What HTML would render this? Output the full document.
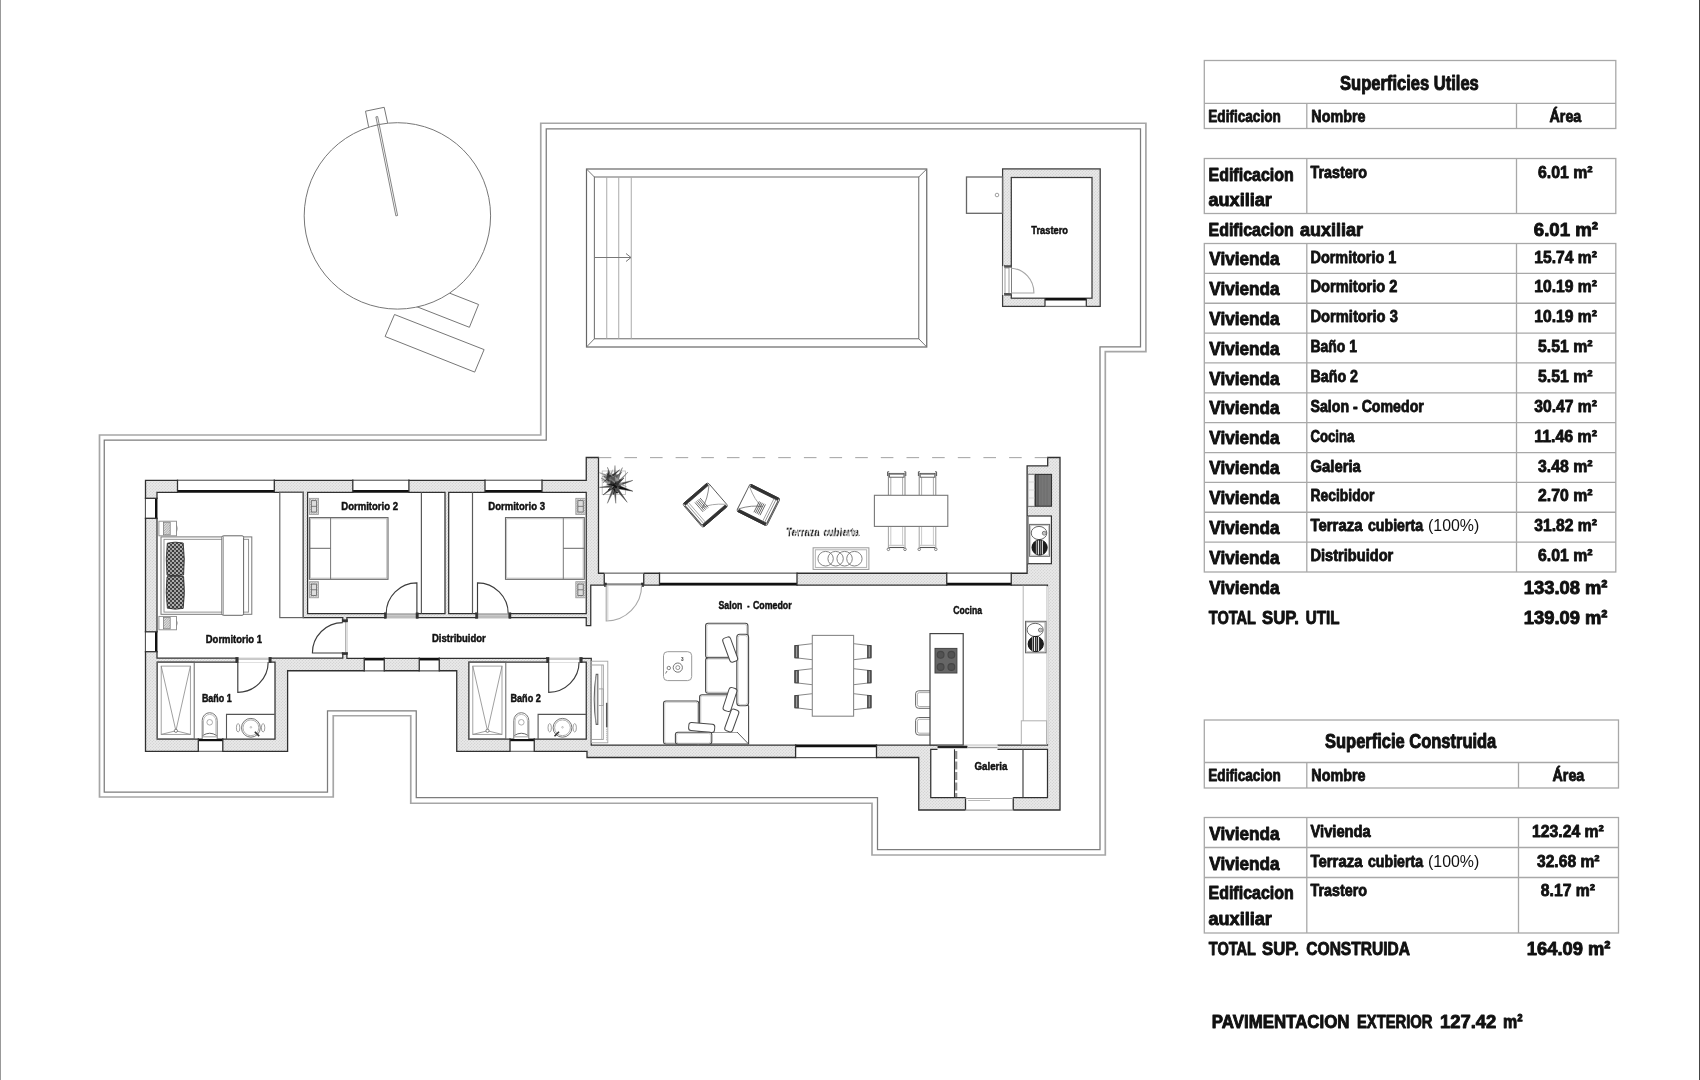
<!DOCTYPE html>
<html lang="es"><head><meta charset="utf-8"><title>Plano - Superficies</title>
<style>
html,body{margin:0;padding:0;background:#fff;}
body{width:1700px;height:1080px;overflow:hidden;position:relative;font-family:"Liberation Sans",sans-serif;}
svg{position:absolute;left:0;top:0;display:block;will-change:transform;}
svg text{font-family:"Liberation Sans",sans-serif;}
</style></head><body>
<svg width="1700" height="1080" viewBox="0 0 1700 1080">
<defs>
<pattern id="hatch" width="3" height="3" patternUnits="userSpaceOnUse">
<rect width="3" height="3" fill="#e4e4e4"/>
<path d="M0,3 L3,0 M-1,1 L1,-1 M2,4 L4,2" stroke="#cfcfcf" stroke-width="0.7"/>
<path d="M0,0 L3,3" stroke="#efefef" stroke-width="0.6"/>
</pattern>
<pattern id="pillow" width="4" height="4" patternUnits="userSpaceOnUse">
<rect width="4" height="4" fill="#3a3a3a"/>
<circle cx="1" cy="1" r="0.9" fill="#e8e8e8"/><circle cx="3" cy="3" r="0.9" fill="#cfcfcf"/><circle cx="3" cy="1" r="0.5" fill="#888"/>
</pattern>
<pattern id="nshatch" width="2.5" height="2.5" patternUnits="userSpaceOnUse">
<rect width="2.5" height="2.5" fill="#ddd"/>
<path d="M0,2.5 L2.5,0" stroke="#888" stroke-width="0.6"/>
</pattern>
<pattern id="tcfill" width="3.2" height="12" patternUnits="userSpaceOnUse" patternTransform="skewX(-12)">
<rect width="3.2" height="12" fill="#c2c2c2"/><rect width="1.5" height="12" fill="#1c1c1c"/>
</pattern>
</defs>
<rect x="0" y="0" width="1700" height="1080" fill="#fff"/>
<polygon points="540.75,123.25 1145.9,123.25 1145.9,351.6 1105.3,351.6 1105.3,855 872,855 872,803.25 410.75,803.25 410.75,715.75 333.25,715.75 333.25,797 99.5,797 99.5,435 540.75,435" fill="none" stroke="#a6a6a6" stroke-width="1.7" />
<polygon points="546.25,128.75 1140.5,128.75 1140.5,346.75 1100,346.75 1100,849.5 877.5,849.5 877.5,797.5 416.25,797.5 416.25,710.75 327.5,710.75 327.5,792 104.25,792 104.25,440 546.25,440" fill="none" stroke="#7c7c7c" stroke-width="1.25" />
<polygon points="389,269.4 478.6,304.5 469.4,327.3 379.8,292.2" fill="none" stroke="#777" stroke-width="1" />
<polygon points="394.5,314.5 484.1,349.6 474.7,372.1 385.1,336.5" fill="none" stroke="#777" stroke-width="1" />
<polyline points="368.6,126.8 365.5,111.2 384.2,107.3 387.6,122.9" fill="none" stroke="#777" stroke-width="1" />
<circle cx="397.4" cy="215.9" r="93.2" fill="#fff" stroke="#777" stroke-width="1" />
<polygon points="375.9,116.9 377.6,116.5 397.6,215.5 395.9,215.9" fill="none" stroke="#777" stroke-width="0.9" />
<rect x="586.5" y="169" width="340.25" height="178" rx="0" fill="none" stroke="#666" stroke-width="1.2" />
<rect x="594.4" y="177" width="324.35" height="161.75" rx="0" fill="none" stroke="#777" stroke-width="1.1" />
<line x1="586.5" y1="169" x2="594.4" y2="177" stroke="#777" stroke-width="1" />
<line x1="926.75" y1="169" x2="918.75" y2="177" stroke="#777" stroke-width="1" />
<line x1="586.5" y1="347" x2="594.4" y2="338.75" stroke="#777" stroke-width="1" />
<line x1="926.75" y1="347" x2="918.75" y2="338.75" stroke="#777" stroke-width="1" />
<line x1="606.75" y1="177" x2="606.75" y2="338.75" stroke="#aaa" stroke-width="1" />
<line x1="618.75" y1="177" x2="618.75" y2="338.75" stroke="#aaa" stroke-width="1" />
<line x1="631.25" y1="177" x2="631.25" y2="338.75" stroke="#aaa" stroke-width="1" />
<line x1="594.4" y1="257.5" x2="631" y2="257.5" stroke="#777" stroke-width="1" />
<polyline points="626,253.5 631,257.5 626,261.5" fill="none" stroke="#777" stroke-width="1" />
<rect x="1002.6" y="168.9" width="97.6" height="137.5" rx="0" fill="url(#hatch)" stroke="#3a3a3a" stroke-width="1.25" />
<rect x="1011.3" y="177.5" width="80.7" height="120.7" rx="0" fill="#fff" stroke="#3a3a3a" stroke-width="1.25" />
<rect x="966.5" y="177" width="36.0" height="36.3" rx="0" fill="#fff" stroke="#666" stroke-width="1.3" />
<circle cx="997" cy="195" r="1.8" fill="none" stroke="#888" stroke-width="0.8" />
<rect x="1002.5" y="266.3" width="8.8" height="28.7" rx="0" fill="#fff" stroke="#fff" stroke-width="0" />
<line x1="1002.5" y1="266.3" x2="1002.5" y2="295" stroke="#999" stroke-width="1" />
<rect x="1005" y="268" width="4" height="25.5" rx="0" fill="none" stroke="#888" stroke-width="0.8" />
<rect x="1004.5" y="265.6" width="6.8" height="1.6" rx="0" fill="#555" stroke="#444" stroke-width="0.6" />
<rect x="1004.5" y="293.4" width="6.8" height="1.8" rx="0" fill="#555" stroke="#444" stroke-width="0.6" />
<path d="M1011.3,268.2 A24,24.6 0 0 1 1033.9,293 L1011.3,293" fill="none" stroke="#a6a6a6" stroke-width="1.1" />
<rect x="1045" y="298" width="41.3" height="8.3" rx="0" fill="#fff" stroke="#fff" stroke-width="0" />
<line x1="1045" y1="299.3" x2="1086.3" y2="299.3" stroke="#111" stroke-width="2.4" />
<line x1="1045" y1="306.3" x2="1086.3" y2="306.3" stroke="#777" stroke-width="1" />
<line x1="1045" y1="298" x2="1045" y2="306.3" stroke="#303030" stroke-width="1.2" />
<line x1="1086.3" y1="298" x2="1086.3" y2="306.3" stroke="#303030" stroke-width="1.2" />
<text x="1031.3" y="233.8" font-size="10.2" font-weight="bold" fill="#111" textLength="36.7" lengthAdjust="spacingAndGlyphs"  stroke="#111" stroke-width="0.46" stroke-linejoin="round">Trastero</text>
<polygon points="145.5,480.3 586.25,480.3 586.25,457.5 598.5,457.5 598.5,573.25 1027.1,573.25 1027.1,465.9 1047.7,465.9 1047.7,457.5 1060,457.5 1060,810 918.75,810 918.75,757.5 587,757.5 587,751.3 456.75,751.3 456.75,670.75 287.6,670.75 287.6,751.3 145.5,751.3" fill="url(#hatch)" stroke="#303030" stroke-width="1.3" />
<polygon points="157,492.3 303.3,492.3 303.3,617.6 342.8,617.6 342.8,658 157,658" fill="#fff" stroke="#303030" stroke-width="1.25" />
<polygon points="307.6,492.3 445,492.3 445,613.5 307.6,613.5" fill="#fff" stroke="#303030" stroke-width="1.25" />
<polygon points="448.7,492.3 586.25,492.3 586.25,613.5 448.7,613.5" fill="#fff" stroke="#303030" stroke-width="1.25" />
<polygon points="346.9,617.6 586.25,617.6 586.25,625.5 590.75,625.5 590.75,585 1047.5,585 1047.5,745 591.25,745 591.25,658.25 346.9,658.25" fill="#fff" stroke="#303030" stroke-width="1.25" />
<polygon points="157.2,662 275,662 275,739 157.2,739" fill="#fff" stroke="#303030" stroke-width="1.25" />
<polygon points="468.75,662 586.25,662 586.25,739 468.75,739" fill="#fff" stroke="#303030" stroke-width="1.25" />
<polygon points="930.75,749.25 1047.5,749.25 1047.5,797.5 930.75,797.5" fill="#fff" stroke="#303030" stroke-width="1.25" />
<rect x="177.5" y="479.5" width="96.80000000000001" height="13.6" fill="#fff"/>
<line x1="177.5" y1="480.3" x2="274.3" y2="480.3" stroke="#555" stroke-width="1" />
<line x1="177.5" y1="491.40000000000003" x2="274.3" y2="491.40000000000003" stroke="#111" stroke-width="2.6" />
<line x1="177.5" y1="479.6" x2="177.5" y2="493.0" stroke="#303030" stroke-width="1.3" />
<line x1="274.3" y1="479.6" x2="274.3" y2="493.0" stroke="#303030" stroke-width="1.3" />
<rect x="352.8" y="479.5" width="56.099999999999966" height="13.6" fill="#fff"/>
<line x1="352.8" y1="480.3" x2="408.9" y2="480.3" stroke="#555" stroke-width="1" />
<line x1="352.8" y1="491.40000000000003" x2="408.9" y2="491.40000000000003" stroke="#111" stroke-width="2.6" />
<line x1="352.8" y1="479.6" x2="352.8" y2="493.0" stroke="#303030" stroke-width="1.3" />
<line x1="408.9" y1="479.6" x2="408.9" y2="493.0" stroke="#303030" stroke-width="1.3" />
<rect x="485" y="479.5" width="57" height="13.6" fill="#fff"/>
<line x1="485" y1="480.3" x2="542" y2="480.3" stroke="#555" stroke-width="1" />
<line x1="485" y1="491.40000000000003" x2="542" y2="491.40000000000003" stroke="#111" stroke-width="2.6" />
<line x1="485" y1="479.6" x2="485" y2="493.0" stroke="#303030" stroke-width="1.3" />
<line x1="542" y1="479.6" x2="542" y2="493.0" stroke="#303030" stroke-width="1.3" />
<rect x="144.7" y="498.3" width="13.1" height="19.999999999999943" fill="#fff"/>
<line x1="145.5" y1="498.3" x2="145.5" y2="518.3" stroke="#555" stroke-width="1" />
<line x1="156.2" y1="498.3" x2="156.2" y2="518.3" stroke="#111" stroke-width="2.4" />
<line x1="144.8" y1="498.3" x2="157.7" y2="498.3" stroke="#303030" stroke-width="1.3" />
<line x1="144.8" y1="518.3" x2="157.7" y2="518.3" stroke="#303030" stroke-width="1.3" />
<rect x="144.7" y="631.8" width="13.1" height="19.90000000000009" fill="#fff"/>
<line x1="145.5" y1="631.8" x2="145.5" y2="651.7" stroke="#555" stroke-width="1" />
<line x1="156.2" y1="631.8" x2="156.2" y2="651.7" stroke="#111" stroke-width="2.4" />
<line x1="144.8" y1="631.8" x2="157.7" y2="631.8" stroke="#303030" stroke-width="1.3" />
<line x1="144.8" y1="651.7" x2="157.7" y2="651.7" stroke="#303030" stroke-width="1.3" />
<rect x="364.25" y="657.45" width="20.0" height="14.1" fill="#fff"/>
<line x1="364.25" y1="670.75" x2="384.25" y2="670.75" stroke="#555" stroke-width="1" />
<line x1="364.25" y1="659.15" x2="384.25" y2="659.15" stroke="#111" stroke-width="2.6" />
<line x1="364.25" y1="657.55" x2="364.25" y2="671.45" stroke="#303030" stroke-width="1.3" />
<line x1="384.25" y1="657.55" x2="384.25" y2="671.45" stroke="#303030" stroke-width="1.3" />
<rect x="419.25" y="657.45" width="20.0" height="14.1" fill="#fff"/>
<line x1="419.25" y1="670.75" x2="439.25" y2="670.75" stroke="#555" stroke-width="1" />
<line x1="419.25" y1="659.15" x2="439.25" y2="659.15" stroke="#111" stroke-width="2.6" />
<line x1="419.25" y1="657.55" x2="419.25" y2="671.45" stroke="#303030" stroke-width="1.3" />
<line x1="439.25" y1="657.55" x2="439.25" y2="671.45" stroke="#303030" stroke-width="1.3" />
<rect x="198.3" y="738.2" width="24.5" height="13.899999999999954" fill="#fff"/>
<line x1="198.3" y1="751.3" x2="222.8" y2="751.3" stroke="#555" stroke-width="1" />
<line x1="198.3" y1="739.9" x2="222.8" y2="739.9" stroke="#111" stroke-width="2.6" />
<line x1="198.3" y1="738.3" x2="198.3" y2="752.0" stroke="#303030" stroke-width="1.3" />
<line x1="222.8" y1="738.3" x2="222.8" y2="752.0" stroke="#303030" stroke-width="1.3" />
<rect x="510" y="738.2" width="24.25" height="13.899999999999954" fill="#fff"/>
<line x1="510" y1="751.3" x2="534.25" y2="751.3" stroke="#555" stroke-width="1" />
<line x1="510" y1="739.9" x2="534.25" y2="739.9" stroke="#111" stroke-width="2.6" />
<line x1="510" y1="738.3" x2="510" y2="752.0" stroke="#303030" stroke-width="1.3" />
<line x1="534.25" y1="738.3" x2="534.25" y2="752.0" stroke="#303030" stroke-width="1.3" />
<rect x="659.5" y="572.45" width="137.5" height="13.35" fill="#fff"/>
<line x1="659.5" y1="573.25" x2="797" y2="573.25" stroke="#555" stroke-width="1" />
<line x1="659.5" y1="584.1" x2="797" y2="584.1" stroke="#111" stroke-width="2.6" />
<line x1="659.5" y1="572.55" x2="659.5" y2="585.7" stroke="#303030" stroke-width="1.3" />
<line x1="797" y1="572.55" x2="797" y2="585.7" stroke="#303030" stroke-width="1.3" />
<rect x="946.75" y="572.45" width="64.5" height="13.35" fill="#fff"/>
<line x1="946.75" y1="573.25" x2="1011.25" y2="573.25" stroke="#555" stroke-width="1" />
<line x1="946.75" y1="584.1" x2="1011.25" y2="584.1" stroke="#111" stroke-width="2.6" />
<line x1="946.75" y1="572.55" x2="946.75" y2="585.7" stroke="#303030" stroke-width="1.3" />
<line x1="1011.25" y1="572.55" x2="1011.25" y2="585.7" stroke="#303030" stroke-width="1.3" />
<rect x="795.6" y="744.2" width="80.89999999999998" height="14.1" fill="#fff"/>
<line x1="795.6" y1="757.5" x2="876.5" y2="757.5" stroke="#555" stroke-width="1" />
<line x1="795.6" y1="745.9" x2="876.5" y2="745.9" stroke="#111" stroke-width="2.6" />
<line x1="795.6" y1="744.3" x2="795.6" y2="758.2" stroke="#303030" stroke-width="1.3" />
<line x1="876.5" y1="744.3" x2="876.5" y2="758.2" stroke="#303030" stroke-width="1.3" />
<rect x="965.5" y="796.7" width="47.75" height="14" fill="#fff"/>
<line x1="965.5" y1="797.5" x2="965.5" y2="810" stroke="#303030" stroke-width="1.3" />
<line x1="1013.25" y1="797.5" x2="1013.25" y2="810" stroke="#303030" stroke-width="1.3" />
<line x1="965.5" y1="810" x2="1013.25" y2="810" stroke="#999" stroke-width="1" />
<line x1="965.5" y1="798.5" x2="1013.25" y2="798.5" stroke="#aaa" stroke-width="1" />
<line x1="968" y1="800.5" x2="990" y2="800.5" stroke="#bbb" stroke-width="1" />
<rect x="604.25" y="572.4" width="39.5" height="13.4" fill="#fff"/>
<line x1="604.25" y1="573.25" x2="604.25" y2="585" stroke="#303030" stroke-width="1.3" />
<line x1="643.75" y1="573.25" x2="643.75" y2="585" stroke="#303030" stroke-width="1.3" />
<line x1="604.25" y1="573.25" x2="643.75" y2="573.25" stroke="#666" stroke-width="1" />
<line x1="604.25" y1="584.2" x2="643.75" y2="584.2" stroke="#8a8a8a" stroke-width="1.9" />
<rect x="604.3" y="583" width="2.0" height="3.5" rx="0" fill="#333" stroke="#303030" stroke-width="0.6" />
<rect x="641.5" y="583" width="2.2" height="3.5" rx="0" fill="#333" stroke="#303030" stroke-width="0.6" />
<path d="M606.2,585 L606.2,621 A35.6,35.6 0 0 0 641.6,585" fill="none" stroke="#a8a8a8" stroke-width="1.1" />
<line x1="607.8" y1="585" x2="607.8" y2="620.6" stroke="#c4c4c4" stroke-width="0.8" />
<rect x="385.6" y="612.7" width="31" height="5.7" fill="#fff"/>
<rect x="385.6" y="613.6" width="31" height="3.8" fill="#c8c8c8"/>
<line x1="385.6" y1="614" x2="416.6" y2="614" stroke="#888" stroke-width="0.9" />
<line x1="385.6" y1="617.2" x2="416.6" y2="617.2" stroke="#999" stroke-width="0.8" />
<rect x="384.3" y="612.8" width="2.2" height="5.5" rx="0" fill="#333" stroke="#303030" stroke-width="0.5" />
<rect x="416" y="612.8" width="2.3" height="5.5" rx="0" fill="#333" stroke="#303030" stroke-width="0.5" />
<path d="M416.9,613.5 L416.9,582.8 A30.7,30.7 0 0 0 386.2,613.5" fill="none" stroke="#3c3c3c" stroke-width="1.15" />
<rect x="477.2" y="612.7" width="32" height="5.7" fill="#fff"/>
<rect x="477.2" y="613.6" width="32" height="3.8" fill="#c8c8c8"/>
<line x1="477.2" y1="614" x2="509.2" y2="614" stroke="#888" stroke-width="0.9" />
<line x1="477.2" y1="617.2" x2="509.2" y2="617.2" stroke="#999" stroke-width="0.8" />
<rect x="475.6" y="612.8" width="2.3" height="5.5" rx="0" fill="#333" stroke="#303030" stroke-width="0.5" />
<rect x="508.8" y="612.8" width="2.2" height="5.5" rx="0" fill="#333" stroke="#303030" stroke-width="0.5" />
<path d="M477.5,613.5 L477.5,582.8 A30.7,30.7 0 0 1 508.2,613.5" fill="none" stroke="#3c3c3c" stroke-width="1.15" />
<rect x="342" y="621.6" width="5.7" height="31" fill="#fff"/>
<line x1="345.8" y1="621.6" x2="345.8" y2="652.6" stroke="#888" stroke-width="0.9" />
<rect x="342.1" y="619.7" width="5.5" height="2.3" rx="0" fill="#333" stroke="#303030" stroke-width="0.5" />
<rect x="342.1" y="652.4" width="5.5" height="2.3" rx="0" fill="#333" stroke="#303030" stroke-width="0.5" />
<path d="M342.8,653 L312.4,653 A30.4,30.4 0 0 1 342.8,622.6" fill="none" stroke="#3c3c3c" stroke-width="1.15" />
<rect x="237.6" y="657.2" width="31.7" height="5.6" fill="#fff"/>
<line x1="237.6" y1="659" x2="269.3" y2="659" stroke="#888" stroke-width="0.9" />
<rect x="235.8" y="657.3" width="2.4" height="5.4" rx="0" fill="#333" stroke="#303030" stroke-width="0.5" />
<rect x="268.9" y="657.3" width="2.3" height="5.4" rx="0" fill="#333" stroke="#303030" stroke-width="0.5" />
<path d="M237.8,662 L237.8,692.3 A30.4,30.4 0 0 0 268.2,662" fill="none" stroke="#3c3c3c" stroke-width="1.15" />
<rect x="548.5" y="657.4" width="31.7" height="5.4" fill="#fff"/>
<line x1="548.5" y1="659" x2="580.2" y2="659" stroke="#888" stroke-width="0.9" />
<rect x="546.6" y="657.3" width="2.4" height="5.4" rx="0" fill="#333" stroke="#303030" stroke-width="0.5" />
<rect x="579.8" y="657.3" width="2.4" height="5.4" rx="0" fill="#333" stroke="#303030" stroke-width="0.5" />
<path d="M548.7,662 L548.7,692.3 A30.4,30.4 0 0 0 579.1,662" fill="none" stroke="#3c3c3c" stroke-width="1.15" />
<rect x="937.5" y="744.3" width="60" height="5.7" fill="#fff"/>
<line x1="937.5" y1="746.9" x2="967.5" y2="746.9" stroke="#222" stroke-width="2.6" />
<line x1="967.5" y1="747.6" x2="997.5" y2="747.6" stroke="#999" stroke-width="1.2" />
<line x1="967.5" y1="745.8" x2="997.5" y2="745.8" stroke="#bbb" stroke-width="0.8" />
<rect x="279.8" y="492.3" width="23.5" height="125.3" rx="0" fill="none" stroke="#666" stroke-width="1.2" />
<line x1="421.4" y1="492.3" x2="421.4" y2="613.5" stroke="#5a5a5a" stroke-width="1.2" />
<line x1="472.5" y1="492.3" x2="472.5" y2="613.5" stroke="#5a5a5a" stroke-width="1.2" />
<rect x="161" y="536.9" width="90.8" height="77.4" rx="0" fill="none" stroke="#777" stroke-width="1" />
<rect x="164" y="539.3" width="84.6" height="72.8" rx="0" fill="none" stroke="#888" stroke-width="0.9" />
<rect x="221.9" y="535.8" width="21.7" height="79.5" rx="1.5" fill="#fff" stroke="#666" stroke-width="1" />
<line x1="223.5" y1="536" x2="223.5" y2="615" stroke="#999" stroke-width="0.8" />
<path d="M167.3,543.2 Q175,541.2 183.2,543 Q185.2,559 183.6,575 Q175,576.4 167,575.2 Q165.4,559 167.3,543.2 Z" fill="url(#pillow)" stroke="#222" stroke-width="0.8" />
<path d="M167,576.8 Q175,575.4 183.6,576.6 Q185.4,592 183.2,608.4 Q175,610 167.4,608.2 Q165.2,592 167,576.8 Z" fill="url(#pillow)" stroke="#222" stroke-width="0.8" />
<rect x="158.9" y="521.2" width="17.6" height="14.6" rx="0" fill="#fff" stroke="#888" stroke-width="0.9" />
<rect x="163.4" y="522.2" width="6.8" height="12.6" rx="0" fill="url(#nshatch)" stroke="#777" stroke-width="0.7" />
<path d="M176.5,525.2 q1.6,3.2999999999999545 0,6.599999999999909" fill="none" stroke="#888" stroke-width="0.8" />
<rect x="158.9" y="616.4" width="17.6" height="13.4" rx="0" fill="#fff" stroke="#888" stroke-width="0.9" />
<rect x="163.4" y="617.4" width="6.8" height="11.4" rx="0" fill="url(#nshatch)" stroke="#777" stroke-width="0.7" />
<path d="M176.5,620.4 q1.6,2.6999999999999886 0,5.399999999999977" fill="none" stroke="#888" stroke-width="0.8" />
<rect x="309.4" y="517.6" width="78.6" height="61.7" rx="0" fill="none" stroke="#666" stroke-width="1.1" />
<rect x="310.6" y="518.8" width="76.2" height="59.3" rx="0" fill="none" stroke="#aaa" stroke-width="0.7" />
<line x1="330.6" y1="517.6" x2="330.6" y2="579.3" stroke="#777" stroke-width="1" />
<line x1="309.4" y1="548.3" x2="330.6" y2="548.3" stroke="#666" stroke-width="1" />
<rect x="309.4" y="498.3" width="9.1" height="16.1" rx="0" fill="url(#nshatch)" stroke="#999" stroke-width="0.8" />
<rect x="311.3" y="500.7" width="5.3" height="11.3" rx="0" fill="#ddd" stroke="#555" stroke-width="0.7" />
<line x1="311.3" y1="506.35" x2="316.6" y2="506.35" stroke="#555" stroke-width="0.7" />
<rect x="309.4" y="581.7" width="9.1" height="16.1" rx="0" fill="url(#nshatch)" stroke="#999" stroke-width="0.8" />
<rect x="311.3" y="584.1" width="5.3" height="11.3" rx="0" fill="#ddd" stroke="#555" stroke-width="0.7" />
<line x1="311.3" y1="589.75" x2="316.6" y2="589.75" stroke="#555" stroke-width="0.7" />
<rect x="505.5" y="517.6" width="78.8" height="61.7" rx="0" fill="none" stroke="#666" stroke-width="1.1" />
<rect x="506.7" y="518.8" width="76.4" height="59.3" rx="0" fill="none" stroke="#aaa" stroke-width="0.7" />
<line x1="563.3" y1="517.6" x2="563.3" y2="579.3" stroke="#777" stroke-width="1" />
<line x1="563.3" y1="548.3" x2="584.3" y2="548.3" stroke="#666" stroke-width="1" />
<rect x="575.8" y="498.3" width="9.7" height="16.1" rx="0" fill="url(#nshatch)" stroke="#999" stroke-width="0.8" />
<rect x="577.9" y="500.7" width="5.3" height="11.3" rx="0" fill="#ddd" stroke="#555" stroke-width="0.7" />
<line x1="577.9" y1="506.35" x2="583.2" y2="506.35" stroke="#555" stroke-width="0.7" />
<rect x="575.8" y="581.7" width="9.7" height="16.1" rx="0" fill="url(#nshatch)" stroke="#999" stroke-width="0.8" />
<rect x="577.9" y="584.1" width="5.3" height="11.3" rx="0" fill="#ddd" stroke="#555" stroke-width="0.7" />
<line x1="577.9" y1="589.75" x2="583.2" y2="589.75" stroke="#555" stroke-width="0.7" />
<rect x="157.3" y="662" width="36.9" height="77" rx="0" fill="none" stroke="#666" stroke-width="1" />
<rect x="161.2" y="666.1" width="29.2" height="68.3" rx="0" fill="none" stroke="#999" stroke-width="0.9" />
<line x1="161.2" y1="666.1" x2="175.9" y2="730.8" stroke="#888" stroke-width="0.8" />
<line x1="190.4" y1="666.1" x2="175.9" y2="730.8" stroke="#888" stroke-width="0.8" />
<line x1="161.2" y1="734.4" x2="175.9" y2="730.8" stroke="#888" stroke-width="0.8" />
<line x1="190.4" y1="734.4" x2="175.9" y2="730.8" stroke="#888" stroke-width="0.8" />
<circle cx="175.9" cy="730.8" r="1.6" fill="#fff" stroke="#666" stroke-width="0.8" />
<path d="M202.2,739 L202.2,720.5 A7.5,7.8 0 0 1 217.2,720.5 L217.2,739" fill="#fff" stroke="#777" stroke-width="1" />
<path d="M203.5,734.5 L203.5,721 A6.2,6.6 0 0 1 215.89999999999998,721 L215.89999999999998,734.5" fill="none" stroke="#aaa" stroke-width="0.8" />
<circle cx="209.7" cy="722.3" r="2.8" fill="none" stroke="#999" stroke-width="0.8" />
<path d="M202.7,735.5 Q209.7,731 216.7,735.5" fill="none" stroke="#666" stroke-width="1" />
<line x1="202.7" y1="736.8" x2="216.7" y2="736.8" stroke="#888" stroke-width="0.8" />
<polyline points="226.5,739 226.5,714.4 274.8,714.4" fill="none" stroke="#555" stroke-width="1.1" />
<circle cx="250.9" cy="727.8" r="9.4" fill="none" stroke="#777" stroke-width="1" />
<circle cx="250.9" cy="727.8" r="7.9" fill="none" stroke="#999" stroke-width="0.8" />
<ellipse cx="238.1" cy="727.8" rx="1.7" ry="4.2" fill="none" stroke="#888" stroke-width="0.8" />
<ellipse cx="263.1" cy="727.8" rx="1.7" ry="4.2" fill="none" stroke="#888" stroke-width="0.8" />
<circle cx="250.9" cy="727.3" r="0.8" fill="none" stroke="#999" stroke-width="0.6" />
<line x1="254.8" y1="731.7" x2="259.2" y2="736.1" stroke="#333" stroke-width="1.6" />
<rect x="468.90000000000003" y="662" width="36.9" height="77" rx="0" fill="none" stroke="#666" stroke-width="1" />
<rect x="472.8" y="666.1" width="29.2" height="68.3" rx="0" fill="none" stroke="#999" stroke-width="0.9" />
<line x1="472.8" y1="666.1" x2="487.5" y2="730.8" stroke="#888" stroke-width="0.8" />
<line x1="502.0" y1="666.1" x2="487.5" y2="730.8" stroke="#888" stroke-width="0.8" />
<line x1="472.8" y1="734.4" x2="487.5" y2="730.8" stroke="#888" stroke-width="0.8" />
<line x1="502.0" y1="734.4" x2="487.5" y2="730.8" stroke="#888" stroke-width="0.8" />
<circle cx="487.5" cy="730.8" r="1.6" fill="#fff" stroke="#666" stroke-width="0.8" />
<path d="M513.8000000000001,739 L513.8000000000001,720.5 A7.5,7.8 0 0 1 528.8000000000001,720.5 L528.8000000000001,739" fill="#fff" stroke="#777" stroke-width="1" />
<path d="M515.1,734.5 L515.1,721 A6.2,6.6 0 0 1 527.5000000000001,721 L527.5000000000001,734.5" fill="none" stroke="#aaa" stroke-width="0.8" />
<circle cx="521.3000000000001" cy="722.3" r="2.8" fill="none" stroke="#999" stroke-width="0.8" />
<path d="M514.3000000000001,735.5 Q521.3000000000001,731 528.3000000000001,735.5" fill="none" stroke="#666" stroke-width="1" />
<line x1="514.3000000000001" y1="736.8" x2="528.3000000000001" y2="736.8" stroke="#888" stroke-width="0.8" />
<polyline points="538.1,739 538.1,714.4 586.4,714.4" fill="none" stroke="#555" stroke-width="1.1" />
<circle cx="562.5" cy="727.8" r="9.4" fill="none" stroke="#777" stroke-width="1" />
<circle cx="562.5" cy="727.8" r="7.9" fill="none" stroke="#999" stroke-width="0.8" />
<ellipse cx="549.7" cy="727.8" rx="1.7" ry="4.2" fill="none" stroke="#888" stroke-width="0.8" />
<ellipse cx="574.7" cy="727.8" rx="1.7" ry="4.2" fill="none" stroke="#888" stroke-width="0.8" />
<circle cx="562.5" cy="727.3" r="0.8" fill="none" stroke="#999" stroke-width="0.6" />
<line x1="559.0" y1="731.7" x2="554.5" y2="736.3" stroke="#333" stroke-width="1.6" />
<rect x="591.4" y="661.2" width="16.4" height="81.6" rx="0" fill="none" stroke="#a4a4a4" stroke-width="0.9" />
<rect x="591.4" y="665" width="11.9" height="74.4" rx="0" fill="none" stroke="#999" stroke-width="0.9" />
<line x1="601.7" y1="665" x2="601.7" y2="739.4" stroke="#aaa" stroke-width="0.8" />
<path d="M597.8,674.4 L597.8,724.4 L596.2,724.4 Q592.2,699.4 596.2,674.4 Z" fill="none" stroke="#666" stroke-width="1.1" />
<line x1="595.8" y1="678" x2="595.8" y2="721" stroke="#aaa" stroke-width="0.7" />
<polyline points="598.9,688.9 603.3,688.9 603.3,705.5 598.9,705.5" fill="none" stroke="#999" stroke-width="0.8" />
<line x1="606.7" y1="702.8" x2="606.7" y2="727.2" stroke="#555" stroke-width="1.5" />
<line x1="606.7" y1="727.2" x2="606.7" y2="741" stroke="#aaa" stroke-width="1.2" stroke-dasharray="1 1"/>
<rect x="663.5" y="651.7" width="28.2" height="28.9" rx="4" fill="none" stroke="#999" stroke-width="1" />
<circle cx="668.8" cy="668" r="1.7" fill="none" stroke="#666" stroke-width="0.8" />
<circle cx="677.8" cy="667.6" r="4.6" fill="none" stroke="#666" stroke-width="0.9" />
<circle cx="677.8" cy="667.6" r="2" fill="none" stroke="#777" stroke-width="0.8" />
<line x1="667" y1="671" x2="665.6" y2="673.5" stroke="#666" stroke-width="0.9" />
<text x="681.3" y="660.5" font-size="4.5" font-weight="bold" fill="#555" textLength="2.2" lengthAdjust="spacingAndGlyphs"  stroke="#555" stroke-width="0.2" stroke-linejoin="round">3</text>
<rect x="705.6" y="623.2" width="42.3" height="34.7" rx="2.5" fill="#fff" stroke="#4a4a4a" stroke-width="1.1" />
<rect x="705.6" y="657.9" width="42.3" height="35.4" rx="2.5" fill="#fff" stroke="#4a4a4a" stroke-width="1.1" />
<rect x="706.8" y="624.4" width="39.9" height="32.4" rx="2" fill="none" stroke="#aaa" stroke-width="0.6" />
<rect x="706.8" y="659" width="39.9" height="33.2" rx="2" fill="none" stroke="#aaa" stroke-width="0.6" />
<rect x="663.5" y="701" width="35.3" height="43" rx="2.5" fill="#fff" stroke="#4a4a4a" stroke-width="1.1" />
<rect x="664.7" y="702.2" width="32.9" height="40.8" rx="2" fill="none" stroke="#aaa" stroke-width="0.6" />
<path d="M699.6,744 L699.6,697 Q699.6,694.7 702,694.7 L737,694.7 L748.6,706 L748.6,744 Z" fill="#fff" stroke="#4a4a4a" stroke-width="1.1" />
<path d="M700.8,744 L700.8,697.4 Q700.8,695.9 702.4,695.9 L736.5,695.9" fill="none" stroke="#aaa" stroke-width="0.6" />
<line x1="737" y1="732" x2="748.2" y2="743.6" stroke="#4a4a4a" stroke-width="0.9" />
<path d="M713,732.5 L737,732.5" fill="none" stroke="#888" stroke-width="0.8" />
<rect x="736.8" y="634.3" width="11.8" height="71.5" rx="3" fill="#fff" stroke="#4a4a4a" stroke-width="1.1" />
<rect x="738" y="635.5" width="9.4" height="69.1" rx="2.4" fill="none" stroke="#aaa" stroke-width="0.6" />
<rect x="-4.1" y="-12.75" width="8.2" height="25.5" rx="2.6" fill="#fff" stroke="#4a4a4a" stroke-width="1" transform="translate(730.2,649.6) rotate(-20)"/>
<rect x="-4.1" y="-11.5" width="8.2" height="23" rx="2.6" fill="#fff" stroke="#4a4a4a" stroke-width="1" transform="translate(731.8,720.5) rotate(20)"/>
<rect x="-4.1" y="-12.0" width="8.2" height="24" rx="2.6" fill="#fff" stroke="#4a4a4a" stroke-width="1" transform="translate(730,699.5) rotate(18)"/>
<rect x="-13.0" y="-4.1" width="26" height="8.2" rx="2.6" fill="#fff" stroke="#4a4a4a" stroke-width="1" transform="translate(701.7,727.4) rotate(5)"/>
<rect x="675.4" y="732.2" width="36.4" height="11.8" rx="2.4" fill="#fff" stroke="#4a4a4a" stroke-width="1.1" />
<rect x="676.6" y="733.4" width="34.0" height="9.8" rx="2" fill="none" stroke="#aaa" stroke-width="0.6" />
<polyline points="812.3,643.7 794.8,645.7 794.8,657.7 812.3,659.7" fill="#fff" stroke="#888" stroke-width="1" />
<rect x="794.8" y="645.5" width="3.6" height="12.4" rx="0" fill="#555" stroke="#444" stroke-width="0.8" />
<line x1="796.5999999999999" y1="646.2" x2="796.5999999999999" y2="657.2" stroke="#bbb" stroke-width="0.8" />
<polyline points="853.6,643.7 871.1,645.7 871.1,657.7 853.6,659.7" fill="#fff" stroke="#888" stroke-width="1" />
<rect x="867.5" y="645.5" width="3.6" height="12.4" rx="0" fill="#555" stroke="#444" stroke-width="0.8" />
<line x1="869.3000000000001" y1="646.2" x2="869.3000000000001" y2="657.2" stroke="#bbb" stroke-width="0.8" />
<polyline points="812.3,668.7 794.8,670.7 794.8,682.7 812.3,684.7" fill="#fff" stroke="#888" stroke-width="1" />
<rect x="794.8" y="670.5" width="3.6" height="12.4" rx="0" fill="#555" stroke="#444" stroke-width="0.8" />
<line x1="796.5999999999999" y1="671.2" x2="796.5999999999999" y2="682.2" stroke="#bbb" stroke-width="0.8" />
<polyline points="853.6,668.7 871.1,670.7 871.1,682.7 853.6,684.7" fill="#fff" stroke="#888" stroke-width="1" />
<rect x="867.5" y="670.5" width="3.6" height="12.4" rx="0" fill="#555" stroke="#444" stroke-width="0.8" />
<line x1="869.3000000000001" y1="671.2" x2="869.3000000000001" y2="682.2" stroke="#bbb" stroke-width="0.8" />
<polyline points="812.3,693.7 794.8,695.7 794.8,707.7 812.3,709.7" fill="#fff" stroke="#888" stroke-width="1" />
<rect x="794.8" y="695.5" width="3.6" height="12.4" rx="0" fill="#555" stroke="#444" stroke-width="0.8" />
<line x1="796.5999999999999" y1="696.2" x2="796.5999999999999" y2="707.2" stroke="#bbb" stroke-width="0.8" />
<polyline points="853.6,693.7 871.1,695.7 871.1,707.7 853.6,709.7" fill="#fff" stroke="#888" stroke-width="1" />
<rect x="867.5" y="695.5" width="3.6" height="12.4" rx="0" fill="#555" stroke="#444" stroke-width="0.8" />
<line x1="869.3000000000001" y1="696.2" x2="869.3000000000001" y2="707.2" stroke="#bbb" stroke-width="0.8" />
<rect x="812.3" y="635.4" width="41.3" height="80.8" rx="0" fill="#fff" stroke="#888" stroke-width="1.1" />
<line x1="1047.5" y1="586.2" x2="1047.5" y2="744.2" stroke="#e2e2e2" stroke-width="2" />
<line x1="1046.6" y1="586.2" x2="1046.6" y2="744.2" stroke="#d4d4d4" stroke-width="0.8" />
<line x1="1023.2" y1="585.6" x2="1023.2" y2="721" stroke="#b4b4b4" stroke-width="1" />
<rect x="1021.3" y="720.8" width="25.3" height="23.8" rx="0" fill="none" stroke="#b0b0b0" stroke-width="1" />
<rect x="915.6" y="690.8" width="18.4" height="17.5" rx="3" fill="#fff" stroke="#666" stroke-width="1" />
<rect x="917.4" y="692.5999999999999" width="16.6" height="13.9" rx="2" fill="none" stroke="#999" stroke-width="0.8" />
<rect x="915.6" y="717.5" width="18.4" height="17.5" rx="3" fill="#fff" stroke="#666" stroke-width="1" />
<rect x="917.4" y="719.3" width="16.6" height="13.9" rx="2" fill="none" stroke="#999" stroke-width="0.8" />
<rect x="930" y="633.6" width="33.2" height="111.4" rx="0" fill="#fff" stroke="#444" stroke-width="1.2" />
<rect x="935" y="648.4" width="21.9" height="24.6" rx="0" fill="#666" stroke="#444" stroke-width="1" />
<circle cx="940.6" cy="654.8" r="3.4" fill="#525252" stroke="#454545" stroke-width="1.1" />
<circle cx="951.4" cy="654.8" r="3.4" fill="#525252" stroke="#454545" stroke-width="1.1" />
<circle cx="940.6" cy="667" r="3.4" fill="#525252" stroke="#454545" stroke-width="1.1" />
<circle cx="951.4" cy="667" r="3.4" fill="#525252" stroke="#454545" stroke-width="1.1" />
<rect x="1025.5" y="621.3" width="20.5" height="31.5" rx="0" fill="#fff" stroke="#666" stroke-width="1" />
<rect x="1026.7" y="622.5" width="18.1" height="29.1" rx="0" fill="none" stroke="#aaa" stroke-width="0.6" />
<ellipse cx="1035.15" cy="629.9" rx="8.05" ry="6.6" fill="none" stroke="#666" stroke-width="1" />
<circle cx="1040.35" cy="630.0999999999999" r="1.9" fill="none" stroke="#666" stroke-width="0.9" />
<circle cx="1040.35" cy="630.0999999999999" r="0.8" fill="none" stroke="#888" stroke-width="0.6" />
<circle cx="1035.75" cy="644.0" r="7.6" fill="#1d1d1d" stroke="#111" stroke-width="1" />
<line x1="1032.55" y1="637.0" x2="1032.55" y2="651.0" stroke="#999" stroke-width="1.1" />
<line x1="1034.55" y1="637.0" x2="1034.55" y2="651.0" stroke="#eee" stroke-width="1.1" />
<line x1="1036.55" y1="637.0" x2="1036.55" y2="651.0" stroke="#888" stroke-width="1.1" />
<line x1="1038.55" y1="637.0" x2="1038.55" y2="651.0" stroke="#ddd" stroke-width="1.1" />
<rect x="1028" y="474.4" width="23.5" height="31.8" rx="0" fill="#777" stroke="#333" stroke-width="1.1" />
<rect x="1028" y="474.4" width="6.6" height="31.8" rx="0" fill="#f4f4f4" stroke="#888" stroke-width="0.8" />
<line x1="1028" y1="482" x2="1034.6" y2="482" stroke="#ccc" stroke-width="0.7" />
<line x1="1028" y1="490" x2="1034.6" y2="490" stroke="#ccc" stroke-width="0.7" />
<line x1="1028" y1="498" x2="1034.6" y2="498" stroke="#ccc" stroke-width="0.7" />
<line x1="1035.6" y1="474.4" x2="1035.6" y2="506.2" stroke="#333" stroke-width="1.2" />
<line x1="1038" y1="474.4" x2="1038" y2="506.2" stroke="#444" stroke-width="1" />
<line x1="1041" y1="475" x2="1041" y2="505.6" stroke="#6a6a6a" stroke-width="0.8" />
<line x1="1044" y1="475" x2="1044" y2="505.6" stroke="#6a6a6a" stroke-width="0.8" />
<line x1="1047" y1="475" x2="1047" y2="505.6" stroke="#6a6a6a" stroke-width="0.8" />
<rect x="1027.8" y="516" width="23.6" height="47.7" rx="0" fill="#fff" stroke="#333" stroke-width="1.2" />
<line x1="1027.8" y1="516" x2="1027.8" y2="563.7" stroke="#888" stroke-width="1" />
<rect x="1029.6" y="524.4" width="20.0" height="31.9" rx="0" fill="#fff" stroke="#666" stroke-width="1" />
<rect x="1030.8" y="525.6" width="17.6" height="29.5" rx="0" fill="none" stroke="#aaa" stroke-width="0.6" />
<ellipse cx="1039.0" cy="533.0" rx="7.8" ry="6.6" fill="none" stroke="#666" stroke-width="1" />
<circle cx="1044.1999999999998" cy="533.1999999999999" r="1.9" fill="none" stroke="#666" stroke-width="0.9" />
<circle cx="1044.1999999999998" cy="533.1999999999999" r="0.8" fill="none" stroke="#888" stroke-width="0.6" />
<circle cx="1039.6" cy="547.5" r="7.6" fill="#1d1d1d" stroke="#111" stroke-width="1" />
<line x1="1036.3999999999999" y1="540.5" x2="1036.3999999999999" y2="554.5" stroke="#999" stroke-width="1.1" />
<line x1="1038.3999999999999" y1="540.5" x2="1038.3999999999999" y2="554.5" stroke="#eee" stroke-width="1.1" />
<line x1="1040.3999999999999" y1="540.5" x2="1040.3999999999999" y2="554.5" stroke="#888" stroke-width="1.1" />
<line x1="1042.3999999999999" y1="540.5" x2="1042.3999999999999" y2="554.5" stroke="#ddd" stroke-width="1.1" />
<line x1="888.4000000000001" y1="473.0" x2="888.4000000000001" y2="495.3" stroke="#777" stroke-width="0.9" />
<line x1="890.8000000000001" y1="477.0" x2="890.8000000000001" y2="495.3" stroke="#999" stroke-width="0.8" />
<line x1="905.0" y1="473.0" x2="905.0" y2="495.3" stroke="#777" stroke-width="0.9" />
<line x1="902.6" y1="477.0" x2="902.6" y2="495.3" stroke="#999" stroke-width="0.8" />
<rect x="889.4000000000001" y="473.4" width="14.6" height="3.8" rx="0" fill="#fff" stroke="#555" stroke-width="0.9" />
<line x1="889.4000000000001" y1="474.4" x2="904.0" y2="474.4" stroke="#777" stroke-width="0.8" />
<path d="M887.6,476.0 L887.6,471.8 L889.2,471.8" fill="none" stroke="#555" stroke-width="1" />
<path d="M905.8000000000001,476.0 L905.8000000000001,471.8 L904.2,471.8" fill="none" stroke="#555" stroke-width="1" />
<line x1="888.4000000000001" y1="548.6999999999999" x2="888.4000000000001" y2="526.4" stroke="#999" stroke-width="0.9" />
<line x1="890.8000000000001" y1="544.6999999999999" x2="890.8000000000001" y2="526.4" stroke="#bbb" stroke-width="0.8" />
<line x1="905.0" y1="548.6999999999999" x2="905.0" y2="526.4" stroke="#999" stroke-width="0.9" />
<line x1="902.6" y1="544.6999999999999" x2="902.6" y2="526.4" stroke="#bbb" stroke-width="0.8" />
<line x1="889.2" y1="547.4999999999999" x2="904.2" y2="547.4999999999999" stroke="#555" stroke-width="1.1" />
<line x1="889.2" y1="545.3" x2="904.2" y2="545.3" stroke="#aaa" stroke-width="0.8" />
<circle cx="888.4000000000001" cy="549.3" r="1.3" fill="none" stroke="#666" stroke-width="0.8" />
<circle cx="905.0" cy="549.3" r="1.3" fill="none" stroke="#666" stroke-width="0.8" />
<line x1="919.2" y1="473.0" x2="919.2" y2="495.3" stroke="#777" stroke-width="0.9" />
<line x1="921.6" y1="477.0" x2="921.6" y2="495.3" stroke="#999" stroke-width="0.8" />
<line x1="935.8" y1="473.0" x2="935.8" y2="495.3" stroke="#777" stroke-width="0.9" />
<line x1="933.4" y1="477.0" x2="933.4" y2="495.3" stroke="#999" stroke-width="0.8" />
<rect x="920.2" y="473.4" width="14.6" height="3.8" rx="0" fill="#fff" stroke="#555" stroke-width="0.9" />
<line x1="920.2" y1="474.4" x2="934.8" y2="474.4" stroke="#777" stroke-width="0.8" />
<path d="M918.4,476.0 L918.4,471.8 L920,471.8" fill="none" stroke="#555" stroke-width="1" />
<path d="M936.6,476.0 L936.6,471.8 L935,471.8" fill="none" stroke="#555" stroke-width="1" />
<line x1="919.2" y1="548.6999999999999" x2="919.2" y2="526.4" stroke="#999" stroke-width="0.9" />
<line x1="921.6" y1="544.6999999999999" x2="921.6" y2="526.4" stroke="#bbb" stroke-width="0.8" />
<line x1="935.8" y1="548.6999999999999" x2="935.8" y2="526.4" stroke="#999" stroke-width="0.9" />
<line x1="933.4" y1="544.6999999999999" x2="933.4" y2="526.4" stroke="#bbb" stroke-width="0.8" />
<line x1="920" y1="547.4999999999999" x2="935" y2="547.4999999999999" stroke="#555" stroke-width="1.1" />
<line x1="920" y1="545.3" x2="935" y2="545.3" stroke="#aaa" stroke-width="0.8" />
<circle cx="919.2" cy="549.3" r="1.3" fill="none" stroke="#666" stroke-width="0.8" />
<circle cx="935.8" cy="549.3" r="1.3" fill="none" stroke="#666" stroke-width="0.8" />
<rect x="874.4" y="495.3" width="73.4" height="31.1" rx="0" fill="#fff" stroke="#777" stroke-width="1.1" />
<rect x="813.1" y="547.8" width="55.8" height="21.6" rx="0" fill="none" stroke="#999" stroke-width="1" />
<rect x="815.3" y="549.8" width="51.4" height="17.6" rx="0" fill="none" stroke="#aaa" stroke-width="0.9" />
<ellipse cx="825.6" cy="558.7" rx="7.7" ry="7.3" fill="none" stroke="#777" stroke-width="0.9" />
<ellipse cx="835.6" cy="558.7" rx="7.7" ry="7.3" fill="none" stroke="#777" stroke-width="0.9" />
<ellipse cx="844.6" cy="558.7" rx="7.7" ry="7.3" fill="none" stroke="#777" stroke-width="0.9" />
<ellipse cx="854.4" cy="558.7" rx="7.7" ry="7.3" fill="none" stroke="#777" stroke-width="0.9" />
<line x1="598.7" y1="457.6" x2="611.3" y2="457.6" stroke="#aaa" stroke-width="1.1" />
<line x1="624.4" y1="457.6" x2="637.0" y2="457.6" stroke="#aaa" stroke-width="1.1" />
<line x1="650.0" y1="457.6" x2="662.6" y2="457.6" stroke="#aaa" stroke-width="1.1" />
<line x1="675.6" y1="457.6" x2="688.2" y2="457.6" stroke="#aaa" stroke-width="1.1" />
<line x1="701.3" y1="457.6" x2="713.9" y2="457.6" stroke="#aaa" stroke-width="1.1" />
<line x1="726.9" y1="457.6" x2="739.5" y2="457.6" stroke="#aaa" stroke-width="1.1" />
<line x1="752.6" y1="457.6" x2="765.2" y2="457.6" stroke="#aaa" stroke-width="1.1" />
<line x1="778.2" y1="457.6" x2="790.8" y2="457.6" stroke="#aaa" stroke-width="1.1" />
<line x1="803.9" y1="457.6" x2="816.5" y2="457.6" stroke="#aaa" stroke-width="1.1" />
<line x1="829.5" y1="457.6" x2="842.1" y2="457.6" stroke="#aaa" stroke-width="1.1" />
<line x1="855.2" y1="457.6" x2="867.8" y2="457.6" stroke="#aaa" stroke-width="1.1" />
<line x1="880.8" y1="457.6" x2="893.4" y2="457.6" stroke="#aaa" stroke-width="1.1" />
<line x1="906.5" y1="457.6" x2="919.1" y2="457.6" stroke="#aaa" stroke-width="1.1" />
<line x1="932.1" y1="457.6" x2="944.7" y2="457.6" stroke="#aaa" stroke-width="1.1" />
<line x1="957.8" y1="457.6" x2="970.4" y2="457.6" stroke="#aaa" stroke-width="1.1" />
<line x1="983.4" y1="457.6" x2="996.0" y2="457.6" stroke="#aaa" stroke-width="1.1" />
<line x1="1009.1" y1="457.6" x2="1021.7" y2="457.6" stroke="#aaa" stroke-width="1.1" />
<line x1="1034.7" y1="457.6" x2="1047.3" y2="457.6" stroke="#aaa" stroke-width="1.1" />
<g transform="translate(707.8,482.4) rotate(49.2)">
<rect x="0" y="0" width="31" height="33.4" rx="2" fill="#fff" stroke="#555" stroke-width="0.9" />
<rect x="0" y="1.5" width="2.6" height="30.4" rx="0" fill="#333" stroke="#222" stroke-width="0.6" />
<rect x="28.4" y="1.5" width="2.6" height="30.4" rx="0" fill="#333" stroke="#222" stroke-width="0.6" />
<line x1="2.6" y1="32.4" x2="28.4" y2="32.4" stroke="#555" stroke-width="1.2" />
<line x1="2.6" y1="30.0" x2="28.4" y2="30.0" stroke="#888" stroke-width="0.8" />
<line x1="2.6" y1="27.799999999999997" x2="28.4" y2="27.799999999999997" stroke="#999" stroke-width="0.8" />
<path d="M2.8,0.8 Q13.02,11.356 15.5,20.708" fill="none" stroke="#777" stroke-width="0.8" />
<path d="M28.2,0.8 Q17.98,11.356 15.5,20.708" fill="none" stroke="#999" stroke-width="0.8" />
<line x1="6.82" y1="16.032" x2="19.22" y2="16.032" stroke="#555" stroke-width="0.8" />
<line x1="6.82" y1="17.732" x2="19.22" y2="17.732" stroke="#555" stroke-width="0.8" />
<line x1="6.82" y1="19.432" x2="19.22" y2="19.432" stroke="#555" stroke-width="0.8" />
<line x1="6.82" y1="21.131999999999998" x2="19.22" y2="21.131999999999998" stroke="#555" stroke-width="0.8" />
<line x1="6.82" y1="22.832" x2="19.22" y2="22.832" stroke="#555" stroke-width="0.8" />
</g>
<g transform="translate(736.5,511) rotate(-63.4)">
<rect x="0" y="0" width="30.4" height="33.6" rx="2" fill="#fff" stroke="#555" stroke-width="0.9" />
<rect x="0" y="1.5" width="2.6" height="30.6" rx="0" fill="#333" stroke="#222" stroke-width="0.6" />
<rect x="27.799999999999997" y="1.5" width="2.6" height="30.6" rx="0" fill="#333" stroke="#222" stroke-width="0.6" />
<line x1="2.6" y1="32.6" x2="27.799999999999997" y2="32.6" stroke="#555" stroke-width="1.2" />
<line x1="2.6" y1="30.200000000000003" x2="27.799999999999997" y2="30.200000000000003" stroke="#888" stroke-width="0.8" />
<line x1="2.6" y1="28.0" x2="27.799999999999997" y2="28.0" stroke="#999" stroke-width="0.8" />
<path d="M2.8,0.8 Q12.767999999999999,11.424000000000001 15.2,20.832" fill="none" stroke="#777" stroke-width="0.8" />
<path d="M27.599999999999998,0.8 Q17.631999999999998,11.424000000000001 15.2,20.832" fill="none" stroke="#999" stroke-width="0.8" />
<line x1="6.688" y1="16.128" x2="18.848" y2="16.128" stroke="#555" stroke-width="0.8" />
<line x1="6.688" y1="17.828" x2="18.848" y2="17.828" stroke="#555" stroke-width="0.8" />
<line x1="6.688" y1="19.528" x2="18.848" y2="19.528" stroke="#555" stroke-width="0.8" />
<line x1="6.688" y1="21.228" x2="18.848" y2="21.228" stroke="#555" stroke-width="0.8" />
<line x1="6.688" y1="22.928" x2="18.848" y2="22.928" stroke="#555" stroke-width="0.8" />
</g>
<rect x="602.2" y="471" width="23.3" height="23.6" rx="0" fill="none" stroke="#bbb" stroke-width="0.8" />
<polygon points="614.1,488.1 632.8,491.2 615.3,483.9" fill="#111" stroke="#111" stroke-width="0.4" />
<polygon points="615.2,487.5 632.8,480.4 614.2,484.5" fill="#444" stroke="#444" stroke-width="0.4" />
<polygon points="613.5,486.9 627.2,502.3 615.9,485.1" fill="#444" stroke="#444" stroke-width="0.4" />
<polygon points="613.3,486.1 615.8,503.3 616.1,485.9" fill="#555" stroke="#555" stroke-width="0.4" />
<polygon points="613.4,485.5 607.4,503.3 616.0,486.5" fill="#555" stroke="#555" stroke-width="0.4" />
<polygon points="616.1,486.0 615,465.5 613.3,486.0" fill="#666" stroke="#666" stroke-width="0.4" />
<polygon points="615.9,485.5 607.4,467.2 613.5,486.5" fill="#666" stroke="#666" stroke-width="0.4" />
<polygon points="615.9,486.5 622.4,467.6 613.5,485.5" fill="#666" stroke="#666" stroke-width="0.4" />
<polygon points="614.6,484.7 599.4,487.4 614.8,487.3" fill="#444" stroke="#444" stroke-width="0.4" />
<polygon points="615.3,485.0 601,478 614.1,487.0" fill="#666" stroke="#666" stroke-width="0.4" />
<polygon points="615.5,486.8 628,472 613.9,485.2" fill="#777" stroke="#777" stroke-width="0.4" />
<polygon points="614.0,485.0 603,495 615.4,487.0" fill="#333" stroke="#333" stroke-width="0.4" />
<polygon points="615.6,487.1 624,478 613.8,484.9" fill="#222" stroke="#222" stroke-width="0.4" />
<polygon points="613.8,484.5 608,490 615.6,487.5" fill="#111" stroke="#111" stroke-width="0.4" />
<polygon points="610.6,477.1 611.9,481.8 612.3,477.0" fill="#777" stroke="#777" stroke-width="0.3" />
<polygon points="617.8,474.8 611.7,474.2 617.0,477.3" fill="#555" stroke="#555" stroke-width="0.3" />
<polygon points="606.9,477.4 607.7,482.8 610.3,477.9" fill="#999" stroke="#999" stroke-width="0.3" />
<polygon points="610.8,479.1 612.8,469.6 608.1,478.1" fill="#999" stroke="#999" stroke-width="0.3" />
<polygon points="611.5,485.1 620.9,481.5 610.9,482.8" fill="#777" stroke="#777" stroke-width="0.3" />
<polygon points="612.3,474.7 607.0,476.2 612.2,478.1" fill="#888" stroke="#888" stroke-width="0.3" />
<polygon points="611.4,483.1 612.6,479.1 609.5,482.0" fill="#888" stroke="#888" stroke-width="0.3" />
<polygon points="609.4,480.4 612.7,486.6 611.4,479.7" fill="#555" stroke="#555" stroke-width="0.3" />
<polygon points="609.0,482.2 609.6,477.8 607.0,481.3" fill="#888" stroke="#888" stroke-width="0.3" />
<polygon points="609.6,481.7 603.6,475.1 608.3,482.8" fill="#333" stroke="#333" stroke-width="0.3" />
<polygon points="610.4,478.9 604.7,474.5 608.3,480.8" fill="#999" stroke="#999" stroke-width="0.3" />
<polygon points="608.9,475.2 598.9,472.4 608.1,477.1" fill="#888" stroke="#888" stroke-width="0.3" />
<polygon points="611.6,476.3 606.6,473.5 610.0,478.2" fill="#1a1a1a" stroke="#1a1a1a" stroke-width="0.3" />
<polygon points="616.0,477.4 614.3,481.9 618.3,479.3" fill="#555" stroke="#555" stroke-width="0.3" />
<polygon points="617.0,484.5 623.1,483.9 617.3,482.0" fill="#888" stroke="#888" stroke-width="0.3" />
<polygon points="614.7,484.0 611.7,480.3 612.7,484.9" fill="#555" stroke="#555" stroke-width="0.3" />
<polygon points="610.2,475.0 602.9,482.9 611.4,476.2" fill="#333" stroke="#333" stroke-width="0.3" />
<polygon points="616.5,480.4 611.1,488.4 618.4,482.0" fill="#333" stroke="#333" stroke-width="0.3" />
<polygon points="607.6,475.2 603.2,478.6 608.5,476.9" fill="#999" stroke="#999" stroke-width="0.3" />
<polygon points="613.2,482.4 621.1,479.8 612.8,480.2" fill="#1a1a1a" stroke="#1a1a1a" stroke-width="0.3" />
<polygon points="614.0,480.9 620.8,484.9 616.5,478.3" fill="#777" stroke="#777" stroke-width="0.3" />
<polygon points="611.2,478.1 614.5,484.4 613.6,477.3" fill="#999" stroke="#999" stroke-width="0.3" />
<polygon points="613.2,476.6 620.0,469.5 611.8,475.0" fill="#333" stroke="#333" stroke-width="0.3" />
<polygon points="611.9,477.0 602.4,476.6 611.5,479.2" fill="#555" stroke="#555" stroke-width="0.3" />
<polygon points="612.1,483.2 601.5,480.1 610.9,485.8" fill="#999" stroke="#999" stroke-width="0.3" />
<polygon points="610.1,477.6 608.2,470.2 606.8,477.7" fill="#333" stroke="#333" stroke-width="0.3" />
<polygon points="614.1,481.1 611.0,489.3 616.9,482.8" fill="#888" stroke="#888" stroke-width="0.3" />
<polygon points="614.3,479.1 617.6,488.3 616.7,478.6" fill="#777" stroke="#777" stroke-width="0.3" />
<polygon points="616.7,482.9 626.8,487.0 617.5,481.4" fill="#888" stroke="#888" stroke-width="0.3" />
<polygon points="613.5,476.8 621.7,483.9 614.9,475.4" fill="#999" stroke="#999" stroke-width="0.3" />
<polygon points="611.2,477.8 604.4,481.0 611.9,481.0" fill="#333" stroke="#333" stroke-width="0.3" />
<polygon points="617.0,478.1 619.9,474.7 615.5,475.2" fill="#777" stroke="#777" stroke-width="0.3" />
<polygon points="617.3,478.6 621.9,472.1 615.3,476.5" fill="#555" stroke="#555" stroke-width="0.3" />
<polygon points="616.5,485.2 618.7,477.4 614.2,484.1" fill="#1a1a1a" stroke="#1a1a1a" stroke-width="0.3" />
<polygon points="612.1,485.5 620.4,485.9 612.7,482.8" fill="#333" stroke="#333" stroke-width="0.3" />
<polygon points="616.0,485.6 620.7,485.7 616.6,483.5" fill="#555" stroke="#555" stroke-width="0.3" />
<polygon points="614.3,480.1 615.1,475.3 611.5,478.6" fill="#555" stroke="#555" stroke-width="0.3" />
<polygon points="615.5,478.8 608.9,485.5 616.6,480.2" fill="#888" stroke="#888" stroke-width="0.3" />
<polygon points="618.9,480.1 619.5,473.4 616.1,479.2" fill="#777" stroke="#777" stroke-width="0.3" />
<polygon points="608.8,480.0 618.7,482.7 610.1,477.0" fill="#777" stroke="#777" stroke-width="0.3" />
<polygon points="610.2,478.2 617.0,482.5 612.2,476.0" fill="#555" stroke="#555" stroke-width="0.3" />
<polygon points="612.9,483.0 606.6,484.8 613.0,486.1" fill="#1a1a1a" stroke="#1a1a1a" stroke-width="0.3" />
<polygon points="609.7,482.5 605.7,479.5 607.5,484.2" fill="#888" stroke="#888" stroke-width="0.3" />
<polygon points="615.3,480.5 621.1,481.7 616.7,477.7" fill="#999" stroke="#999" stroke-width="0.3" />
<line x1="616.4" y1="487.3" x2="619.7" y2="487.3" stroke="#333" stroke-width="2" />
<line x1="615.7" y1="487.7" x2="613.2" y2="494.6" stroke="#333" stroke-width="1.5" />
<line x1="613.2" y1="488.0" x2="617.5" y2="493.3" stroke="#111" stroke-width="1.5" />
<line x1="615.9" y1="485.1" x2="619.1" y2="486.9" stroke="#333" stroke-width="1" />
<line x1="614.7" y1="484.6" x2="610.5" y2="482.4" stroke="#333" stroke-width="2" />
<line x1="614.9" y1="486.0" x2="618.5" y2="484.4" stroke="#333" stroke-width="1" />
<line x1="615.5" y1="484.5" x2="611.1" y2="481.1" stroke="#333" stroke-width="1" />
<line x1="614.0" y1="487.4" x2="617.2" y2="492.4" stroke="#111" stroke-width="1" />
<line x1="616.3" y1="485.3" x2="618.9" y2="490.1" stroke="#555" stroke-width="1.5" />
<line x1="616.3" y1="485.4" x2="620.2" y2="480.3" stroke="#333" stroke-width="2" />
<line x1="615.5" y1="487.2" x2="616.3" y2="492.0" stroke="#555" stroke-width="1.5" />
<line x1="613.4" y1="488.9" x2="617.4" y2="485.9" stroke="#333" stroke-width="1.5" />
<line x1="612.1" y1="487.2" x2="609.5" y2="488.9" stroke="#555" stroke-width="2" />
<line x1="616.7" y1="487.7" x2="613.1" y2="484.6" stroke="#111" stroke-width="2" />
<line x1="954.5" y1="749.25" x2="954.5" y2="797.5" stroke="#333" stroke-width="1.1" />
<line x1="956.2" y1="751" x2="956.2" y2="797" stroke="#8a8a8a" stroke-width="2.2" stroke-dasharray="8 2.5"/>
<line x1="1023" y1="749.25" x2="1023" y2="797.5" stroke="#444" stroke-width="1.2" />
<text x="341.3" y="509.5" font-size="10.2" font-weight="bold" fill="#111" textLength="56.7" lengthAdjust="spacingAndGlyphs"  stroke="#111" stroke-width="0.46" stroke-linejoin="round">Dormitorio 2</text>
<text x="488.3" y="509.5" font-size="10.2" font-weight="bold" fill="#111" textLength="56.7" lengthAdjust="spacingAndGlyphs"  stroke="#111" stroke-width="0.46" stroke-linejoin="round">Dormitorio 3</text>
<text x="205.8" y="642.5" font-size="10.2" font-weight="bold" fill="#111" textLength="56.2" lengthAdjust="spacingAndGlyphs"  stroke="#111" stroke-width="0.46" stroke-linejoin="round">Dormitorio 1</text>
<text x="432" y="642.3" font-size="10.2" font-weight="bold" fill="#111" textLength="53.8" lengthAdjust="spacingAndGlyphs"  stroke="#111" stroke-width="0.46" stroke-linejoin="round">Distribuidor</text>
<text x="201.9" y="701.8" font-size="10.2" font-weight="bold" fill="#111" textLength="29.8" lengthAdjust="spacingAndGlyphs"  stroke="#111" stroke-width="0.46" stroke-linejoin="round">Baño 1</text>
<text x="510.5" y="701.8" font-size="10.2" font-weight="bold" fill="#111" textLength="30.3" lengthAdjust="spacingAndGlyphs"  stroke="#111" stroke-width="0.46" stroke-linejoin="round">Baño 2</text>
<text x="718.5" y="608.8" font-size="10.2" font-weight="bold" fill="#111" textLength="23.9" lengthAdjust="spacingAndGlyphs"  stroke="#111" stroke-width="0.46" stroke-linejoin="round">Salon</text>
<text x="747.2" y="608.8" font-size="10.2" font-weight="bold" fill="#111" textLength="2.3" lengthAdjust="spacingAndGlyphs"  stroke="#111" stroke-width="0.46" stroke-linejoin="round">-</text>
<text x="752.9" y="608.8" font-size="10.2" font-weight="bold" fill="#111" textLength="38.7" lengthAdjust="spacingAndGlyphs"  stroke="#111" stroke-width="0.46" stroke-linejoin="round">Comedor</text>
<text x="953.3" y="613.8" font-size="10.2" font-weight="bold" fill="#111" textLength="28.7" lengthAdjust="spacingAndGlyphs"  stroke="#111" stroke-width="0.46" stroke-linejoin="round">Cocina</text>
<text x="974.5" y="770" font-size="10.2" font-weight="bold" fill="#111" textLength="33.0" lengthAdjust="spacingAndGlyphs"  stroke="#111" stroke-width="0.46" stroke-linejoin="round">Galeria</text>
<text x="786.2" y="535.8" font-size="10.6" font-weight="bold" fill="url(#tcfill)" stroke="url(#tcfill)" stroke-width="0.4" textLength="33.5" lengthAdjust="spacingAndGlyphs">Terraza</text>
<text x="823.2" y="535.8" font-size="10.6" font-weight="bold" fill="url(#tcfill)" stroke="url(#tcfill)" stroke-width="0.4" textLength="35.9" lengthAdjust="spacingAndGlyphs">cubierta</text>
<rect x="1204.3" y="60.5" width="411.5" height="68.0" rx="0" fill="none" stroke="#a8a8a8" stroke-width="1.3" />
<line x1="1204.3" y1="103.3" x2="1615.8" y2="103.3" stroke="#a8a8a8" stroke-width="1.3" />
<line x1="1306.8" y1="103.3" x2="1306.8" y2="128.5" stroke="#a8a8a8" stroke-width="1.3" />
<line x1="1516.5" y1="103.3" x2="1516.5" y2="128.5" stroke="#a8a8a8" stroke-width="1.3" />
<text x="1340" y="89.5" font-size="19.9" font-weight="bold" fill="#111" textLength="138.8" lengthAdjust="spacingAndGlyphs"  stroke="#111" stroke-width="0.99" stroke-linejoin="round">Superficies Utiles</text>
<text x="1208.3" y="122" font-size="16.5" font-weight="bold" fill="#111" textLength="72.5" lengthAdjust="spacingAndGlyphs"  stroke="#111" stroke-width="0.83" stroke-linejoin="round">Edificacion</text>
<text x="1311.3" y="122" font-size="16.5" font-weight="bold" fill="#111" textLength="54.2" lengthAdjust="spacingAndGlyphs"  stroke="#111" stroke-width="0.83" stroke-linejoin="round">Nombre</text>
<text x="1549.5" y="122" font-size="16.5" font-weight="bold" fill="#111" textLength="31.8" lengthAdjust="spacingAndGlyphs"  stroke="#111" stroke-width="0.83" stroke-linejoin="round">Área</text>
<rect x="1204.3" y="158.5" width="411.5" height="55.0" rx="0" fill="none" stroke="#a8a8a8" stroke-width="1.3" />
<line x1="1306.8" y1="158.5" x2="1306.8" y2="213.5" stroke="#a8a8a8" stroke-width="1.3" />
<line x1="1516.5" y1="158.5" x2="1516.5" y2="213.5" stroke="#a8a8a8" stroke-width="1.3" />
<text x="1208.5" y="180.8" font-size="18.7" font-weight="bold" fill="#111" textLength="85.3" lengthAdjust="spacingAndGlyphs"  stroke="#111" stroke-width="0.94" stroke-linejoin="round">Edificacion</text>
<text x="1208.5" y="206.3" font-size="18.7" font-weight="bold" fill="#111" textLength="63.3" lengthAdjust="spacingAndGlyphs"  stroke="#111" stroke-width="0.94" stroke-linejoin="round">auxiliar</text>
<text x="1310.5" y="177.5" font-size="16.5" font-weight="bold" fill="#111" textLength="56.5" lengthAdjust="spacingAndGlyphs"  stroke="#111" stroke-width="0.83" stroke-linejoin="round">Trastero</text>
<text x="1538" y="177.5" font-size="16.5" font-weight="bold" fill="#111" textLength="54.5" lengthAdjust="spacingAndGlyphs"  stroke="#111" stroke-width="0.83" stroke-linejoin="round">6.01 m²</text>
<text x="1208.5" y="235.8" font-size="18.7" font-weight="bold" fill="#111" textLength="85.3" lengthAdjust="spacingAndGlyphs"  stroke="#111" stroke-width="0.94" stroke-linejoin="round">Edificacion</text>
<text x="1300" y="235.8" font-size="18.7" font-weight="bold" fill="#111" textLength="63" lengthAdjust="spacingAndGlyphs"  stroke="#111" stroke-width="0.94" stroke-linejoin="round">auxiliar</text>
<text x="1533.8" y="235.8" font-size="18.7" font-weight="bold" fill="#111" textLength="64.2" lengthAdjust="spacingAndGlyphs"  stroke="#111" stroke-width="0.94" stroke-linejoin="round">6.01 m²</text>
<rect x="1204.3" y="243.5" width="411.5" height="328.5" rx="0" fill="none" stroke="#a8a8a8" stroke-width="1.3" />
<line x1="1306.8" y1="243.5" x2="1306.8" y2="572" stroke="#a8a8a8" stroke-width="1.3" />
<line x1="1516.5" y1="243.5" x2="1516.5" y2="572" stroke="#a8a8a8" stroke-width="1.3" />
<text x="1209.3" y="265.1" font-size="18.7" font-weight="bold" fill="#111" textLength="70.2" lengthAdjust="spacingAndGlyphs"  stroke="#111" stroke-width="0.94" stroke-linejoin="round">Vivienda</text>
<text x="1310.5" y="262.5" font-size="16.5" font-weight="bold" fill="#111" textLength="85.8" lengthAdjust="spacingAndGlyphs"  stroke="#111" stroke-width="0.83" stroke-linejoin="round">Dormitorio 1</text>
<text x="1534.3" y="262.5" font-size="16.5" font-weight="bold" fill="#111" textLength="62.7" lengthAdjust="spacingAndGlyphs"  stroke="#111" stroke-width="0.83" stroke-linejoin="round">15.74 m²</text>
<line x1="1204.3" y1="273.36" x2="1615.8" y2="273.36" stroke="#a8a8a8" stroke-width="1.3" />
<text x="1209.3" y="294.96" font-size="18.7" font-weight="bold" fill="#111" textLength="70.2" lengthAdjust="spacingAndGlyphs"  stroke="#111" stroke-width="0.94" stroke-linejoin="round">Vivienda</text>
<text x="1310.5" y="292.36" font-size="16.5" font-weight="bold" fill="#111" textLength="87.0" lengthAdjust="spacingAndGlyphs"  stroke="#111" stroke-width="0.83" stroke-linejoin="round">Dormitorio 2</text>
<text x="1534.3" y="292.36" font-size="16.5" font-weight="bold" fill="#111" textLength="62.7" lengthAdjust="spacingAndGlyphs"  stroke="#111" stroke-width="0.83" stroke-linejoin="round">10.19 m²</text>
<line x1="1204.3" y1="303.23" x2="1615.8" y2="303.23" stroke="#a8a8a8" stroke-width="1.3" />
<text x="1209.3" y="324.83" font-size="18.7" font-weight="bold" fill="#111" textLength="70.2" lengthAdjust="spacingAndGlyphs"  stroke="#111" stroke-width="0.94" stroke-linejoin="round">Vivienda</text>
<text x="1310.5" y="322.23" font-size="16.5" font-weight="bold" fill="#111" textLength="87.3" lengthAdjust="spacingAndGlyphs"  stroke="#111" stroke-width="0.83" stroke-linejoin="round">Dormitorio 3</text>
<text x="1534.3" y="322.23" font-size="16.5" font-weight="bold" fill="#111" textLength="62.7" lengthAdjust="spacingAndGlyphs"  stroke="#111" stroke-width="0.83" stroke-linejoin="round">10.19 m²</text>
<line x1="1204.3" y1="333.09" x2="1615.8" y2="333.09" stroke="#a8a8a8" stroke-width="1.3" />
<text x="1209.3" y="354.69" font-size="18.7" font-weight="bold" fill="#111" textLength="70.2" lengthAdjust="spacingAndGlyphs"  stroke="#111" stroke-width="0.94" stroke-linejoin="round">Vivienda</text>
<text x="1310.5" y="352.09" font-size="16.5" font-weight="bold" fill="#111" textLength="46.5" lengthAdjust="spacingAndGlyphs"  stroke="#111" stroke-width="0.83" stroke-linejoin="round">Baño 1</text>
<text x="1538" y="352.09" font-size="16.5" font-weight="bold" fill="#111" textLength="54.5" lengthAdjust="spacingAndGlyphs"  stroke="#111" stroke-width="0.83" stroke-linejoin="round">5.51 m²</text>
<line x1="1204.3" y1="362.95" x2="1615.8" y2="362.95" stroke="#a8a8a8" stroke-width="1.3" />
<text x="1209.3" y="384.55" font-size="18.7" font-weight="bold" fill="#111" textLength="70.2" lengthAdjust="spacingAndGlyphs"  stroke="#111" stroke-width="0.94" stroke-linejoin="round">Vivienda</text>
<text x="1310.5" y="381.95" font-size="16.5" font-weight="bold" fill="#111" textLength="47.5" lengthAdjust="spacingAndGlyphs"  stroke="#111" stroke-width="0.83" stroke-linejoin="round">Baño 2</text>
<text x="1538" y="381.95" font-size="16.5" font-weight="bold" fill="#111" textLength="54.5" lengthAdjust="spacingAndGlyphs"  stroke="#111" stroke-width="0.83" stroke-linejoin="round">5.51 m²</text>
<line x1="1204.3" y1="392.82" x2="1615.8" y2="392.82" stroke="#a8a8a8" stroke-width="1.3" />
<text x="1209.3" y="414.42" font-size="18.7" font-weight="bold" fill="#111" textLength="70.2" lengthAdjust="spacingAndGlyphs"  stroke="#111" stroke-width="0.94" stroke-linejoin="round">Vivienda</text>
<text x="1310.5" y="411.82" font-size="16.5" font-weight="bold" fill="#111" textLength="113.3" lengthAdjust="spacingAndGlyphs"  stroke="#111" stroke-width="0.83" stroke-linejoin="round">Salon - Comedor</text>
<text x="1534.3" y="411.82" font-size="16.5" font-weight="bold" fill="#111" textLength="62.7" lengthAdjust="spacingAndGlyphs"  stroke="#111" stroke-width="0.83" stroke-linejoin="round">30.47 m²</text>
<line x1="1204.3" y1="422.68" x2="1615.8" y2="422.68" stroke="#a8a8a8" stroke-width="1.3" />
<text x="1209.3" y="444.28" font-size="18.7" font-weight="bold" fill="#111" textLength="70.2" lengthAdjust="spacingAndGlyphs"  stroke="#111" stroke-width="0.94" stroke-linejoin="round">Vivienda</text>
<text x="1310.5" y="441.68" font-size="16.5" font-weight="bold" fill="#111" textLength="43.8" lengthAdjust="spacingAndGlyphs"  stroke="#111" stroke-width="0.83" stroke-linejoin="round">Cocina</text>
<text x="1534.3" y="441.68" font-size="16.5" font-weight="bold" fill="#111" textLength="62.7" lengthAdjust="spacingAndGlyphs"  stroke="#111" stroke-width="0.83" stroke-linejoin="round">11.46 m²</text>
<line x1="1204.3" y1="452.55" x2="1615.8" y2="452.55" stroke="#a8a8a8" stroke-width="1.3" />
<text x="1209.3" y="474.15" font-size="18.7" font-weight="bold" fill="#111" textLength="70.2" lengthAdjust="spacingAndGlyphs"  stroke="#111" stroke-width="0.94" stroke-linejoin="round">Vivienda</text>
<text x="1310.5" y="471.55" font-size="16.5" font-weight="bold" fill="#111" textLength="50.3" lengthAdjust="spacingAndGlyphs"  stroke="#111" stroke-width="0.83" stroke-linejoin="round">Galeria</text>
<text x="1538" y="471.55" font-size="16.5" font-weight="bold" fill="#111" textLength="54.5" lengthAdjust="spacingAndGlyphs"  stroke="#111" stroke-width="0.83" stroke-linejoin="round">3.48 m²</text>
<line x1="1204.3" y1="482.41" x2="1615.8" y2="482.41" stroke="#a8a8a8" stroke-width="1.3" />
<text x="1209.3" y="504.01" font-size="18.7" font-weight="bold" fill="#111" textLength="70.2" lengthAdjust="spacingAndGlyphs"  stroke="#111" stroke-width="0.94" stroke-linejoin="round">Vivienda</text>
<text x="1310.5" y="501.41" font-size="16.5" font-weight="bold" fill="#111" textLength="64.0" lengthAdjust="spacingAndGlyphs"  stroke="#111" stroke-width="0.83" stroke-linejoin="round">Recibidor</text>
<text x="1538" y="501.41" font-size="16.5" font-weight="bold" fill="#111" textLength="54.5" lengthAdjust="spacingAndGlyphs"  stroke="#111" stroke-width="0.83" stroke-linejoin="round">2.70 m²</text>
<line x1="1204.3" y1="512.27" x2="1615.8" y2="512.27" stroke="#a8a8a8" stroke-width="1.3" />
<text x="1209.3" y="533.87" font-size="18.7" font-weight="bold" fill="#111" textLength="70.2" lengthAdjust="spacingAndGlyphs"  stroke="#111" stroke-width="0.94" stroke-linejoin="round">Vivienda</text>
<text x="1310.5" y="531.27" font-size="16.5" font-weight="bold" fill="#111" textLength="52.0" lengthAdjust="spacingAndGlyphs"  stroke="#111" stroke-width="0.83" stroke-linejoin="round">Terraza</text>
<text x="1368" y="531.27" font-size="16.5" font-weight="bold" fill="#111" textLength="55" lengthAdjust="spacingAndGlyphs"  stroke="#111" stroke-width="0.83" stroke-linejoin="round">cubierta</text>
<text x="1428" y="531.27" font-size="16.5" font-weight="normal" fill="#111" textLength="51.3" lengthAdjust="spacingAndGlyphs" >(100%)</text>
<text x="1534.3" y="531.27" font-size="16.5" font-weight="bold" fill="#111" textLength="62.7" lengthAdjust="spacingAndGlyphs"  stroke="#111" stroke-width="0.83" stroke-linejoin="round">31.82 m²</text>
<line x1="1204.3" y1="542.14" x2="1615.8" y2="542.14" stroke="#a8a8a8" stroke-width="1.3" />
<text x="1209.3" y="563.74" font-size="18.7" font-weight="bold" fill="#111" textLength="70.2" lengthAdjust="spacingAndGlyphs"  stroke="#111" stroke-width="0.94" stroke-linejoin="round">Vivienda</text>
<text x="1310.5" y="561.14" font-size="16.5" font-weight="bold" fill="#111" textLength="82.8" lengthAdjust="spacingAndGlyphs"  stroke="#111" stroke-width="0.83" stroke-linejoin="round">Distribuidor</text>
<text x="1538" y="561.14" font-size="16.5" font-weight="bold" fill="#111" textLength="54.5" lengthAdjust="spacingAndGlyphs"  stroke="#111" stroke-width="0.83" stroke-linejoin="round">6.01 m²</text>
<text x="1209.3" y="593.8" font-size="18.7" font-weight="bold" fill="#111" textLength="70.2" lengthAdjust="spacingAndGlyphs"  stroke="#111" stroke-width="0.94" stroke-linejoin="round">Vivienda</text>
<text x="1523.8" y="593.8" font-size="18.7" font-weight="bold" fill="#111" textLength="83.7" lengthAdjust="spacingAndGlyphs"  stroke="#111" stroke-width="0.94" stroke-linejoin="round">133.08 m²</text>
<text x="1208.8" y="623.8" font-size="18.7" font-weight="bold" fill="#111" textLength="47.0" lengthAdjust="spacingAndGlyphs"  stroke="#111" stroke-width="0.94" stroke-linejoin="round">TOTAL</text>
<text x="1262" y="623.8" font-size="18.7" font-weight="bold" fill="#111" textLength="36.8" lengthAdjust="spacingAndGlyphs"  stroke="#111" stroke-width="0.94" stroke-linejoin="round">SUP.</text>
<text x="1305.8" y="623.8" font-size="18.7" font-weight="bold" fill="#111" textLength="33.7" lengthAdjust="spacingAndGlyphs"  stroke="#111" stroke-width="0.94" stroke-linejoin="round">UTIL</text>
<text x="1523.8" y="623.8" font-size="18.7" font-weight="bold" fill="#111" textLength="83.7" lengthAdjust="spacingAndGlyphs"  stroke="#111" stroke-width="0.94" stroke-linejoin="round">139.09 m²</text>
<rect x="1204.3" y="720" width="414.2" height="68" rx="0" fill="none" stroke="#a8a8a8" stroke-width="1.3" />
<line x1="1204.3" y1="762.5" x2="1618.5" y2="762.5" stroke="#a8a8a8" stroke-width="1.3" />
<line x1="1306.8" y1="762.5" x2="1306.8" y2="788" stroke="#a8a8a8" stroke-width="1.3" />
<line x1="1518.5" y1="762.5" x2="1518.5" y2="788" stroke="#a8a8a8" stroke-width="1.3" />
<text x="1325" y="748" font-size="19.9" font-weight="bold" fill="#111" textLength="171.3" lengthAdjust="spacingAndGlyphs"  stroke="#111" stroke-width="0.99" stroke-linejoin="round">Superficie Construida</text>
<text x="1208.3" y="781.3" font-size="16.5" font-weight="bold" fill="#111" textLength="72.5" lengthAdjust="spacingAndGlyphs"  stroke="#111" stroke-width="0.83" stroke-linejoin="round">Edificacion</text>
<text x="1311.3" y="781.3" font-size="16.5" font-weight="bold" fill="#111" textLength="54.2" lengthAdjust="spacingAndGlyphs"  stroke="#111" stroke-width="0.83" stroke-linejoin="round">Nombre</text>
<text x="1552.5" y="781.3" font-size="16.5" font-weight="bold" fill="#111" textLength="31.8" lengthAdjust="spacingAndGlyphs"  stroke="#111" stroke-width="0.83" stroke-linejoin="round">Área</text>
<rect x="1204.3" y="817.5" width="414.2" height="115.5" rx="0" fill="none" stroke="#a8a8a8" stroke-width="1.3" />
<line x1="1204.3" y1="847.5" x2="1618.5" y2="847.5" stroke="#a8a8a8" stroke-width="1.3" />
<line x1="1204.3" y1="877.5" x2="1618.5" y2="877.5" stroke="#a8a8a8" stroke-width="1.3" />
<line x1="1306.8" y1="817.5" x2="1306.8" y2="933" stroke="#a8a8a8" stroke-width="1.3" />
<line x1="1518.5" y1="817.5" x2="1518.5" y2="933" stroke="#a8a8a8" stroke-width="1.3" />
<text x="1209.3" y="840" font-size="18.7" font-weight="bold" fill="#111" textLength="70.2" lengthAdjust="spacingAndGlyphs"  stroke="#111" stroke-width="0.94" stroke-linejoin="round">Vivienda</text>
<text x="1310.5" y="836.8" font-size="16.5" font-weight="bold" fill="#111" textLength="60.3" lengthAdjust="spacingAndGlyphs"  stroke="#111" stroke-width="0.83" stroke-linejoin="round">Vivienda</text>
<text x="1532" y="836.8" font-size="16.5" font-weight="bold" fill="#111" textLength="71.8" lengthAdjust="spacingAndGlyphs"  stroke="#111" stroke-width="0.83" stroke-linejoin="round">123.24 m²</text>
<text x="1209.3" y="870" font-size="18.7" font-weight="bold" fill="#111" textLength="70.2" lengthAdjust="spacingAndGlyphs"  stroke="#111" stroke-width="0.94" stroke-linejoin="round">Vivienda</text>
<text x="1310.5" y="866.8" font-size="16.5" font-weight="bold" fill="#111" textLength="52.0" lengthAdjust="spacingAndGlyphs"  stroke="#111" stroke-width="0.83" stroke-linejoin="round">Terraza</text>
<text x="1368" y="866.8" font-size="16.5" font-weight="bold" fill="#111" textLength="55" lengthAdjust="spacingAndGlyphs"  stroke="#111" stroke-width="0.83" stroke-linejoin="round">cubierta</text>
<text x="1428" y="866.8" font-size="16.5" font-weight="normal" fill="#111" textLength="51.3" lengthAdjust="spacingAndGlyphs" >(100%)</text>
<text x="1537" y="866.8" font-size="16.5" font-weight="bold" fill="#111" textLength="62.5" lengthAdjust="spacingAndGlyphs"  stroke="#111" stroke-width="0.83" stroke-linejoin="round">32.68 m²</text>
<text x="1208.5" y="899.3" font-size="18.7" font-weight="bold" fill="#111" textLength="85.3" lengthAdjust="spacingAndGlyphs"  stroke="#111" stroke-width="0.94" stroke-linejoin="round">Edificacion</text>
<text x="1208.5" y="924.5" font-size="18.7" font-weight="bold" fill="#111" textLength="63.3" lengthAdjust="spacingAndGlyphs"  stroke="#111" stroke-width="0.94" stroke-linejoin="round">auxiliar</text>
<text x="1310.5" y="896.3" font-size="16.5" font-weight="bold" fill="#111" textLength="56.5" lengthAdjust="spacingAndGlyphs"  stroke="#111" stroke-width="0.83" stroke-linejoin="round">Trastero</text>
<text x="1540.8" y="896.3" font-size="16.5" font-weight="bold" fill="#111" textLength="54.2" lengthAdjust="spacingAndGlyphs"  stroke="#111" stroke-width="0.83" stroke-linejoin="round">8.17 m²</text>
<text x="1208.8" y="955" font-size="18.7" font-weight="bold" fill="#111" textLength="47.0" lengthAdjust="spacingAndGlyphs"  stroke="#111" stroke-width="0.94" stroke-linejoin="round">TOTAL</text>
<text x="1262" y="955" font-size="18.7" font-weight="bold" fill="#111" textLength="36.8" lengthAdjust="spacingAndGlyphs"  stroke="#111" stroke-width="0.94" stroke-linejoin="round">SUP.</text>
<text x="1306.3" y="955" font-size="18.7" font-weight="bold" fill="#111" textLength="103.7" lengthAdjust="spacingAndGlyphs"  stroke="#111" stroke-width="0.94" stroke-linejoin="round">CONSTRUIDA</text>
<text x="1526.8" y="955" font-size="18.7" font-weight="bold" fill="#111" textLength="83.7" lengthAdjust="spacingAndGlyphs"  stroke="#111" stroke-width="0.94" stroke-linejoin="round">164.09 m²</text>
<text x="1211.8" y="1027.5" font-size="18.4" font-weight="bold" fill="#111" textLength="137.7" lengthAdjust="spacingAndGlyphs"  stroke="#111" stroke-width="0.92" stroke-linejoin="round">PAVIMENTACION</text>
<text x="1357" y="1027.5" font-size="18.4" font-weight="bold" fill="#111" textLength="75.5" lengthAdjust="spacingAndGlyphs"  stroke="#111" stroke-width="0.92" stroke-linejoin="round">EXTERIOR</text>
<text x="1440" y="1027.5" font-size="18.4" font-weight="bold" fill="#111" textLength="56.3" lengthAdjust="spacingAndGlyphs"  stroke="#111" stroke-width="0.92" stroke-linejoin="round">127.42</text>
<text x="1503" y="1027.5" font-size="18.4" font-weight="bold" fill="#111" textLength="19.5" lengthAdjust="spacingAndGlyphs"  stroke="#111" stroke-width="0.92" stroke-linejoin="round">m²</text>
<line x1="0.5" y1="0" x2="0.5" y2="1080" stroke="#999" stroke-width="1" />
<line x1="1699.5" y1="0" x2="1699.5" y2="1080" stroke="#444" stroke-width="1" />
</svg>
</body></html>
